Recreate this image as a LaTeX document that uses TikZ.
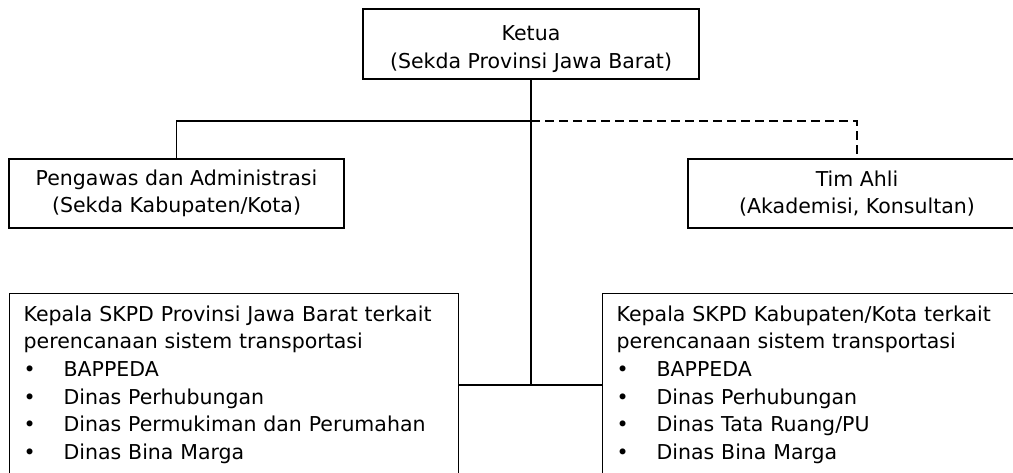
\documentclass[tikz,border=0pt]{standalone}
\usepackage{fontspec}
\setmainfont{DejaVu Sans}
\usetikzlibrary{calc}

\newcommand{\itembul}{\makebox[40pt][l]{•}}

\begin{document}
\begin{tikzpicture}[x=1pt,y=1pt,
        box/.style={draw,line width=1.3pt,align=center,inner sep=0pt,font=\fontsize{20.5}{27.6}\selectfont},
        listbox/.style={draw,line width=1.3pt,anchor=north west,align=left,inner xsep=14pt,inner ysep=12pt,
            text width=421pt,font=\fontsize{20.5}{27.6}\selectfont},
        link/.style={line width=1.3pt},
        dashlink/.style={line width=1.3pt,dash pattern=on 9pt off 5pt}
    ]
            \useasboundingbox (0,0) rectangle (1013,-472);

            \node[box,minimum width=336pt,minimum height=70pt] (ketua) at (531,-44) {\rule{0pt}{25pt}Ketua\\(Sekda Provinsi Jawa Barat)};
            \node[box,minimum width=335pt,minimum height=69pt] (pengawas) at (176.5,-193.5) {Pengawas dan Administrasi\\(Sekda Kabupaten/Kota)};
            \node[box,minimum width=338pt,minimum height=69pt] (timahli) at (857,-193.5) {Tim Ahli\\(Akademisi, Konsultan)};

            \node[listbox] (skpdprov) at (9,-293) {Kepala SKPD Provinsi Jawa Barat terkait\\
                perencanaan sistem transportasi\\
                \itembul BAPPEDA\\
                \itembul Dinas Perhubungan\\
                \itembul Dinas Permukiman dan Perumahan\\
                \itembul Dinas Bina Marga};
            \node[listbox] (skpdkab) at (602,-293) {Kepala SKPD Kabupaten/Kota terkait\\
                perencanaan sistem transportasi\\
                \itembul BAPPEDA\\
                \itembul Dinas Perhubungan\\
                \itembul Dinas Tata Ruang/PU\\
                \itembul Dinas Bina Marga};

            \coordinate (split) at (531,-121);
            \coordinate (join) at (531,-385);

            \draw[link] (ketua.south) -- (join);
            \draw[link] (split) -| (pengawas.north);
            \draw[dashlink] (split) -| (timahli.north);
            \draw[link] (skpdprov.east |- join) -- (skpdkab.west |- join);
        \end{tikzpicture}
\end{document}
